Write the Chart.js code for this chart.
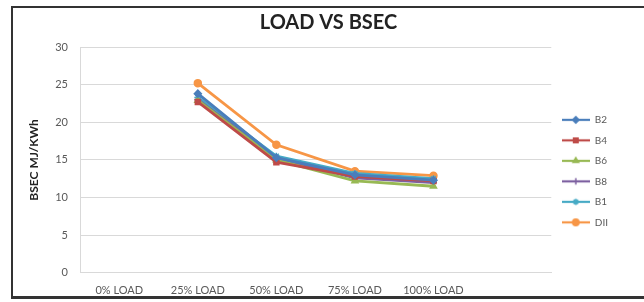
<!DOCTYPE html>
<html>
<head>
<meta charset="utf-8">
<script src="https://cdn.jsdelivr.net/npm/chart.js@4/dist/chart.umd.min.js"></script>
<style>
  body { margin: 0; background: #fff; }
  #wrap { position: relative; width: 644px; height: 302px; overflow: hidden; }
  #frame { position: absolute; left: 11px; top: 6px; width: 660px; height: 288px;
           border: 2px solid #333; border-bottom-width: 3px; pointer-events: none; }
</style>
</head>
<body>
<div id="wrap">
  <canvas id="myChart" width="644" height="302"></canvas>
  <div id="frame"></div>
</div>
<script>
// data
var loads = ['0% LOAD', '25% LOAD', '50% LOAD', '75% LOAD', '100% LOAD', ''];
var seriesNames = ['B2', 'B4', 'B6', 'B8', 'B1', 'DII'];
var b2  = [null, 23.8, 15.3, 13.0, 12.3];
var b4  = [null, 22.7, 14.7, 12.8, 12.2];
var b6  = [null, 22.9, 15.0, 12.2, 11.5];
var b8  = [null, 23.0, 15.2, 12.6, 12.0];
var b1  = [null, 23.3, 15.5, 13.2, 12.5];
var dii = [null, 25.2, 17.0, 13.5, 12.9];
var yTicks = [0, 5, 10, 15, 20, 25, 30];

var colors = ['#4a7ebb', '#be4b48', '#98b954', '#7d60a0', '#46aac5', '#f79646'];
var markers = ['rectRot', 'rect', 'triangle', 'cross', 'star', 'circle'];
var values = [b2, b4, b6, b8, b1, dii];

// small legend pictures: line with marker
function legendIcon(color, style) {
    var c = document.createElement('canvas');
    c.width = 28; c.height = 10;
    var ctx = c.getContext('2d');
    ctx.strokeStyle = color;
    ctx.lineWidth = 2.2;
    ctx.beginPath(); ctx.moveTo(0, 5); ctx.lineTo(28, 5); ctx.stroke();
    ctx.fillStyle = color;
    ctx.lineWidth = 1.5;
    Chart.helpers.drawPoint(ctx, {pointStyle: style, radius: 3.2, borderWidth: 1.5}, 14, 5);
    ctx.fill();
    return c;
}

var datasets = [];
for (var i = 0; i < seriesNames.length; i++) {
    datasets.push({
        label: seriesNames[i],
        data: values[i],
        borderColor: colors[i],
        backgroundColor: colors[i],
        borderWidth: 2.8,
        pointStyle: markers[i],
        pointRadius: 3.5,
        pointBorderWidth: 1.5,
        tension: 0,
        icon: legendIcon(colors[i], markers[i])
    });
}

Chart.defaults.font.family = 'Lato, "Liberation Sans", sans-serif';
Chart.defaults.color = '#595959';

var graphTarget = document.getElementById('myChart');
var lineGraph = new Chart(graphTarget, {
    type: 'line',
    data: { labels: loads, datasets: datasets },
    options: {
        responsive: false,
        animation: false,
        layout: { padding: { left: 24, right: 26, top: 0, bottom: -7 } },
        plugins: {
            title: {
                display: true,
                // leading space nudges the centred title a little to the right, as in the picture
                text: '\u2003LOAD VS BSEC',
                color: '#222',
                font: { size: 20, weight: 'bold' },
                padding: { top: 11, bottom: 12 }
            },
            legend: {
                position: 'right',
                title: { display: true, text: ' ', font: { size: 1 }, padding: { top: 0, bottom: 32 } },
                labels: {
                    usePointStyle: true,
                    pointStyleWidth: 28,
                    padding: 10.5,
                    font: { size: 10 },
                    color: '#595959',
                    generateLabels: function(chart) {
                        return chart.data.datasets.map(function(ds, idx) {
                            return {
                                text: ds.label,
                                pointStyle: ds.icon,
                                fillStyle: ds.borderColor,
                                strokeStyle: ds.borderColor,
                                lineWidth: 0,
                                datasetIndex: idx
                            };
                        });
                    }
                }
            },
            tooltip: { enabled: false }
        },
        scales: {
            x: {
                offset: true,
                grid: { display: false, drawTicks: false, offset: true },
                border: { color: '#d9d9d9' },
                ticks: { padding: 11.5, font: { size: 11 }, maxRotation: 0, autoSkip: false }
            },
            y: {
                min: 0,
                max: 30,
                afterBuildTicks: function(scale) {
                    scale.ticks = yTicks.map(function(v) { return { value: v }; });
                },
                afterFit: function(scale) { scale.width = 56; },
                grid: { color: '#d9d9d9', drawTicks: false },
                border: { color: '#d9d9d9' },
                ticks: { padding: 12, font: { size: 11 } },
                title: {
                    display: true,
                    text: 'BSEC MJ/KWh',
                    color: '#222',
                    font: { size: 12, weight: 'bold' },
                    padding: { top: 3, bottom: 3 }
                }
            }
        }
    }
});
</script>
</body>
</html>
